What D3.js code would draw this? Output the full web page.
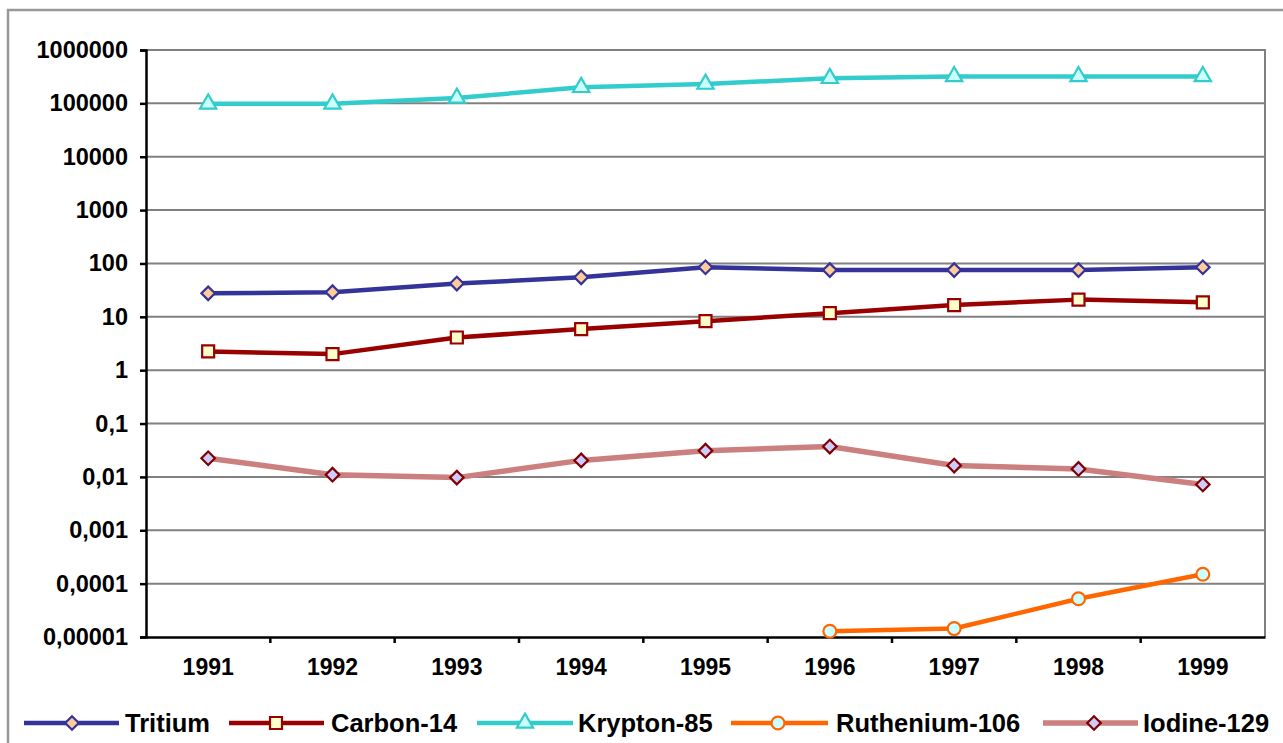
<!DOCTYPE html>
<html><head><meta charset="utf-8">
<script src="https://cdn.jsdelivr.net/npm/d3@7"></script>
<style>html,body{margin:0;padding:0;background:#fff;}svg{display:block;}</style>
</head><body>
<script>
const years = ["1991","1992","1993","1994","1995","1996","1997","1998","1999"];
const tritium   = [27.5, 29, 42, 55, 85, 75, 75, 75, 85];
const carbon14  = [2.25, 2.0, 4.1, 5.9, 8.3, 11.7, 16.6, 21, 18.7];
const krypton85 = [98000, 98000, 126000, 200000, 230000, 295000, 320000, 320000, 320000];
const ruthenium106 = [null, null, null, null, null, 1.28e-5, 1.44e-5, 5.2e-5, 1.5e-4];
const iodine129 = [0.0224, 0.011, 0.0097, 0.0204, 0.031, 0.037, 0.0163, 0.0141, 0.0072];
const yTickValues = [1e-5, 1e-4, 1e-3, 1e-2, 1e-1, 1, 10, 100, 1000, 10000, 100000, 1000000];
const yTickLabels = ["0,00001","0,0001","0,001","0,01","0,1","1","10","100","1000","10000","100000","1000000"];
const seriesNames = ["Tritium","Carbon-14","Krypton-85","Ruthenium-106","Iodine-129"];

const styles = [
  {line:"#333399", fill:"#FFCC99", stroke:"#333399", sym:"diamond", lw:4.5},
  {line:"#990000", fill:"#FFFFCC", stroke:"#990000", sym:"square", lw:4.5},
  {line:"#33CCCC", fill:"#CCFFFF", stroke:"#33CCCC", sym:"triangle", lw:4.5},
  {line:"#FF6600", fill:"#CCFFFF", stroke:"#FF6600", sym:"circle", lw:4.5},
  {line:"#CC7F7F", fill:"#CCCCFF", stroke:"#800000", sym:"diamond", lw:5.5}
];
const data = [tritium, carbon14, krypton85, ruthenium106, iodine129];

const W = 1283, H = 743;
const svg = d3.select("body").append("svg").attr("width", W).attr("height", H);
const font = "'Liberation Sans', Arial, sans-serif";

// outer border
svg.append("rect").attr("x",8).attr("y",10).attr("width",1400).attr("height",900)
  .attr("fill","none").attr("stroke","#999").attr("stroke-width",2.5);

const pLeft = 146, pRight = 1265, pTop = 50, pBottom = 637;
const x = d3.scaleBand().domain(years).range([pLeft, pRight]).padding(0);
const y = d3.scaleLog().domain([1e-5, 1e6]).range([pBottom, pTop]);
const cx = d => x(d) + x.bandwidth()/2;

// gridlines
svg.append("g").selectAll("line").data(yTickValues.slice(1)).join("line")
  .attr("x1", pLeft).attr("x2", pRight).attr("y1", d=>y(d)).attr("y2", d=>y(d))
  .attr("stroke","#808080").attr("stroke-width",2);
// right border
svg.append("line").attr("x1",pRight).attr("x2",pRight).attr("y1",pTop-1).attr("y2",pBottom)
  .attr("stroke","#808080").attr("stroke-width",2);

// y axis
const yAxis = d3.axisLeft(y).tickValues(yTickValues)
  .tickFormat((d,i)=>yTickLabels[i]).tickSize(6).tickPadding(12);
const gy = svg.append("g").attr("transform",`translate(${pLeft},0)`).call(yAxis);
gy.select(".domain").attr("stroke","#000").attr("stroke-width",2.5);
gy.selectAll(".tick line").attr("stroke","#000").attr("stroke-width",2.5);
gy.selectAll("text").attr("font-family",font).attr("font-weight","bold")
  .attr("font-size","23.5px").attr("fill","#000");

// x axis
const gx = svg.append("g").attr("transform",`translate(0,${pBottom})`)
  .call(d3.axisBottom(x).tickSize(0).tickPadding(22));
gx.select(".domain").attr("stroke","#000").attr("stroke-width",2.5);
gx.selectAll("text").attr("font-family",font).attr("font-weight","bold")
  .attr("font-size","23px").attr("fill","#000");
// category boundary ticks
svg.append("g").selectAll("line").data(years.slice(1)).join("line")
  .attr("x1", d=>x(d)).attr("x2", d=>x(d)).attr("y1", pBottom).attr("y2", pBottom+6)
  .attr("stroke","#000").attr("stroke-width",2.5);

function symPath(sym){
  if(sym==="diamond") return d3.symbol(d3.symbolSquare, 92)();
  if(sym==="square") return d3.symbol(d3.symbolSquare, 144)();
  if(sym==="triangle") return d3.symbol(d3.symbolTriangle, 115)();
  return d3.symbol(d3.symbolCircle, 130)();
}
function drawMarker(g, s, px, py){
  const p = g.append("path").attr("d", symPath(s.sym))
    .attr("fill", s.fill).attr("stroke", s.stroke).attr("stroke-width", 2.2)
    .attr("stroke-linejoin","miter");
  p.attr("transform", `translate(${px},${py})` + (s.sym==="diamond" ? " rotate(45)" : ""));
}

const line = d3.line().defined(d=>d[1]!=null).x(d=>cx(d[0])).y(d=>y(d[1]));
data.forEach((vals, i) => {
  const s = styles[i];
  const pts = years.map((yr,j)=>[yr, vals[j]]);
  const g = svg.append("g");
  g.append("path").datum(pts).attr("d", line).attr("fill","none")
    .attr("stroke", s.line).attr("stroke-width", s.lw).attr("stroke-linejoin","round");
  pts.filter(p=>p[1]!=null).forEach(p => drawMarker(g, s, cx(p[0]), y(p[1])));
});

// legend
const legendY = 723;
const legendItems = [
  {x1:24, x2:119, mx:72, tx:125},
  {x1:229, x2:324, mx:276, tx:331},
  {x1:477, x2:573, mx:525, tx:578},
  {x1:731, x2:828, mx:778, tx:836},
  {x1:1043, x2:1138, mx:1094, tx:1143}
];
const lg = svg.append("g");
legendItems.forEach((it, i) => {
  const s = styles[i];
  lg.append("line").attr("x1", it.x1).attr("x2", it.x2).attr("y1", legendY).attr("y2", legendY)
    .attr("stroke", s.line).attr("stroke-width", s.lw);
  drawMarker(lg, s, it.mx, legendY);
  lg.append("text").attr("x", it.tx).attr("y", legendY + 9).text(seriesNames[i])
    .attr("font-family", font).attr("font-weight","bold").attr("font-size","25.5px").attr("fill","#000");
});
</script>
</body></html>
